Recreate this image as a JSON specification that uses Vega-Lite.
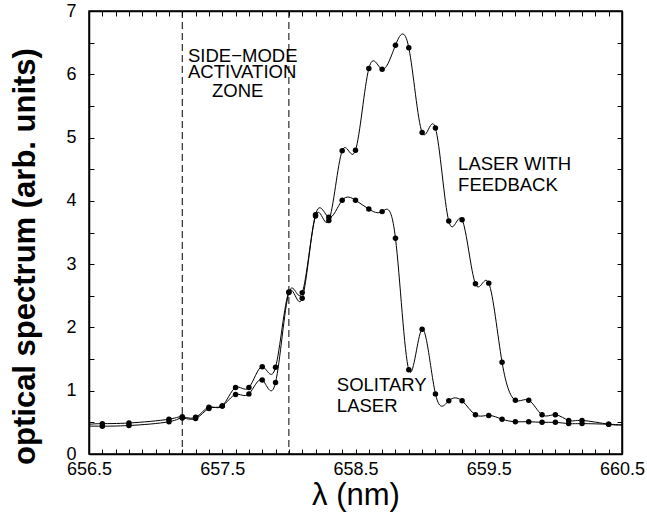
{
  "$schema": "https://vega.github.io/schema/vega-lite/v6.json",
  "width": 533,
  "height": 443,
  "autosize": {"type": "none"},
  "padding": {"left": 89, "top": 11, "right": 25, "bottom": 59},
  "background": "white",
  "config": {
    "view": {"stroke": "black", "strokeWidth": 1.5},
    "font": "Liberation Sans",
    "axis": {
      "grid": false,
      "domainColor": "black",
      "domainWidth": 1.5,
      "tickColor": "black",
      "tickWidth": 1,
      "labelColor": "black",
      "titleColor": "black",
      "labelFont": "Liberation Sans",
      "titleFont": "Liberation Sans",
      "labelFontSize": 18,
      "labelOverlap": false,
      "labelFlush": false
    }
  },
  "datasets": {
    "spectra": [
      {"nm": 656.5, "series": "feedback", "power": 0.47},
      {"nm": 656.6, "series": "feedback", "power": 0.48},
      {"nm": 656.8, "series": "feedback", "power": 0.49},
      {"nm": 657.1, "series": "feedback", "power": 0.55},
      {"nm": 657.2, "series": "feedback", "power": 0.59},
      {"nm": 657.3, "series": "feedback", "power": 0.58},
      {"nm": 657.4, "series": "feedback", "power": 0.74},
      {"nm": 657.5, "series": "feedback", "power": 0.76},
      {"nm": 657.6, "series": "feedback", "power": 1.05},
      {"nm": 657.7, "series": "feedback", "power": 1.05},
      {"nm": 657.8, "series": "feedback", "power": 1.38},
      {"nm": 657.9, "series": "feedback", "power": 1.37},
      {"nm": 658.0, "series": "feedback", "power": 2.56},
      {"nm": 658.1, "series": "feedback", "power": 2.46},
      {"nm": 658.2, "series": "feedback", "power": 3.76},
      {"nm": 658.3, "series": "feedback", "power": 3.69},
      {"nm": 658.4, "series": "feedback", "power": 4.79},
      {"nm": 658.5, "series": "feedback", "power": 4.80},
      {"nm": 658.6, "series": "feedback", "power": 6.09},
      {"nm": 658.7, "series": "feedback", "power": 6.08},
      {"nm": 658.8, "series": "feedback", "power": 6.46},
      {"nm": 658.9, "series": "feedback", "power": 6.42},
      {"nm": 659.0, "series": "feedback", "power": 5.08},
      {"nm": 659.1, "series": "feedback", "power": 5.15},
      {"nm": 659.2, "series": "feedback", "power": 3.68},
      {"nm": 659.3, "series": "feedback", "power": 3.70},
      {"nm": 659.4, "series": "feedback", "power": 2.69},
      {"nm": 659.5, "series": "feedback", "power": 2.70},
      {"nm": 659.6, "series": "feedback", "power": 1.45},
      {"nm": 659.7, "series": "feedback", "power": 0.85},
      {"nm": 659.8, "series": "feedback", "power": 0.85},
      {"nm": 659.9, "series": "feedback", "power": 0.62},
      {"nm": 660.0, "series": "feedback", "power": 0.62},
      {"nm": 660.1, "series": "feedback", "power": 0.53},
      {"nm": 660.2, "series": "feedback", "power": 0.53},
      {"nm": 660.4, "series": "feedback", "power": 0.47},
      {"nm": 660.5, "series": "feedback", "power": 0.46},
      {"nm": 656.5, "series": "solitary", "power": 0.44},
      {"nm": 656.6, "series": "solitary", "power": 0.44},
      {"nm": 656.8, "series": "solitary", "power": 0.45},
      {"nm": 657.1, "series": "solitary", "power": 0.51},
      {"nm": 657.2, "series": "solitary", "power": 0.57},
      {"nm": 657.3, "series": "solitary", "power": 0.56},
      {"nm": 657.4, "series": "solitary", "power": 0.72},
      {"nm": 657.5, "series": "solitary", "power": 0.76},
      {"nm": 657.6, "series": "solitary", "power": 0.94},
      {"nm": 657.7, "series": "solitary", "power": 0.95},
      {"nm": 657.8, "series": "solitary", "power": 1.17},
      {"nm": 657.9, "series": "solitary", "power": 1.13},
      {"nm": 658.0, "series": "solitary", "power": 2.55},
      {"nm": 658.1, "series": "solitary", "power": 2.55},
      {"nm": 658.2, "series": "solitary", "power": 3.78},
      {"nm": 658.3, "series": "solitary", "power": 3.74},
      {"nm": 658.4, "series": "solitary", "power": 4.01},
      {"nm": 658.5, "series": "solitary", "power": 4.01},
      {"nm": 658.6, "series": "solitary", "power": 3.87},
      {"nm": 658.7, "series": "solitary", "power": 3.83},
      {"nm": 658.8, "series": "solitary", "power": 3.41},
      {"nm": 658.9, "series": "solitary", "power": 1.33},
      {"nm": 659.0, "series": "solitary", "power": 1.97},
      {"nm": 659.1, "series": "solitary", "power": 0.95},
      {"nm": 659.2, "series": "solitary", "power": 0.84},
      {"nm": 659.3, "series": "solitary", "power": 0.84},
      {"nm": 659.4, "series": "solitary", "power": 0.62},
      {"nm": 659.5, "series": "solitary", "power": 0.61},
      {"nm": 659.6, "series": "solitary", "power": 0.55},
      {"nm": 659.7, "series": "solitary", "power": 0.51},
      {"nm": 659.8, "series": "solitary", "power": 0.51},
      {"nm": 659.9, "series": "solitary", "power": 0.50},
      {"nm": 660.0, "series": "solitary", "power": 0.50},
      {"nm": 660.1, "series": "solitary", "power": 0.48},
      {"nm": 660.2, "series": "solitary", "power": 0.48},
      {"nm": 660.4, "series": "solitary", "power": 0.47},
      {"nm": 660.5, "series": "solitary", "power": 0.46}
    ],
    "zone": [{"nm": 657.2}, {"nm": 658.0}],
    "notes": [
      {"nm": 657.243, "power": 6.19, "text": "SIDE−MODE"},
      {"nm": 657.243, "power": 5.94, "text": "ACTIVATION"},
      {"nm": 657.423, "power": 5.64, "text": "ZONE"},
      {"nm": 659.27, "power": 4.49, "text": "LASER WITH"},
      {"nm": 659.27, "power": 4.15, "text": "FEEDBACK"},
      {"nm": 658.36, "power": 1.0, "text": "SOLITARY"},
      {"nm": 658.36, "power": 0.66, "text": "LASER"}
    ]
  },
  "layer": [
    {
      "data": {"name": "spectra"},
      "mark": {"type": "line", "interpolate": "natural", "color": "black", "strokeWidth": 1},
      "encoding": {
        "x": {
          "field": "nm", "type": "quantitative",
          "scale": {"domain": [656.5, 660.5], "nice": false, "zero": false},
          "axis": {
            "orient": "bottom",
            "title": "λ (nm)",
            "titleFontSize": 31,
            "titleFontWeight": "normal",
            "titleX": 266.5,
            "titleY": 50,
            "titleAlign": "center",
            "titleBaseline": "alphabetic",
            "values": [656.5,656.6,656.7,656.8,656.9,657.0,657.1,657.2,657.3,657.4,657.5,657.6,657.7,657.8,657.9,658.0,658.1,658.2,658.3,658.4,658.5,658.6,658.7,658.8,658.9,659.0,659.1,659.2,659.3,659.4,659.5,659.6,659.7,659.8,659.9,660.0,660.1,660.2,660.3,660.4,660.5],
            "labelExpr": "indexof(['656.5','657.5','658.5','659.5','660.5'], format(datum.value, '.1f')) >= 0 ? format(datum.value, '.1f') : ''",
            "tickSize": -5,
            "labelPadding": 11,
            "labelBaseline": "top"
          }
        },
        "y": {
          "field": "power", "type": "quantitative",
          "scale": {"domain": [0, 7], "nice": false},
          "axis": {
            "orient": "left",
            "title": "optical spectrum (arb. units)",
            "titleFontSize": 31,
            "titleFontWeight": "bold",
            "titleAngle": 270,
            "titleX": -64,
            "titleY": 245,
            "titleAlign": "center",
            "titleBaseline": "middle",
            "values": [0,0.5,1,1.5,2,2.5,3,3.5,4,4.5,5,5.5,6,6.5,7],
            "labelExpr": "datum.value % 1 == 0 ? format(datum.value, 'd') : ''",
            "tickSize": -5,
            "labelPadding": 18
          }
        },
        "detail": {"field": "series"}
      }
    },
    {
      "data": {"name": "spectra"},
      "transform": [{"filter": "datum.nm > 656.55 && datum.nm < 660.45"}],
      "mark": {"type": "circle", "color": "black", "opacity": 1, "size": 30},
      "encoding": {
        "x": {
          "field": "nm", "type": "quantitative",
          "scale": {"domain": [656.5, 660.5], "nice": false, "zero": false},
          "axis": {
            "orient": "top",
            "title": null,
            "labels": false,
            "values": [656.5,656.6,656.7,656.8,656.9,657.0,657.1,657.2,657.3,657.4,657.5,657.6,657.7,657.8,657.9,658.0,658.1,658.2,658.3,658.4,658.5,658.6,658.7,658.8,658.9,659.0,659.1,659.2,659.3,659.4,659.5,659.6,659.7,659.8,659.9,660.0,660.1,660.2,660.3,660.4,660.5],
            "tickSize": -5
          }
        },
        "y": {
          "field": "power", "type": "quantitative",
          "scale": {"domain": [0, 7], "nice": false},
          "axis": {
            "orient": "right",
            "title": null,
            "labels": false,
            "values": [0,0.5,1,1.5,2,2.5,3,3.5,4,4.5,5,5.5,6,6.5,7],
            "tickSize": -5
          }
        }
      }
    },
    {
      "data": {"name": "zone"},
      "mark": {"type": "rule", "color": "black", "strokeWidth": 1, "strokeDash": [7, 4]},
      "encoding": {
        "x": {"field": "nm", "type": "quantitative", "scale": {"domain": [656.5, 660.5], "nice": false, "zero": false}, "axis": null}
      }
    },
    {
      "data": {"name": "notes"},
      "mark": {"type": "text", "align": "left", "baseline": "alphabetic", "font": "Liberation Sans", "fontSize": 18.5, "color": "black"},
      "encoding": {
        "x": {"field": "nm", "type": "quantitative", "scale": {"domain": [656.5, 660.5], "nice": false, "zero": false}, "axis": null},
        "y": {"field": "power", "type": "quantitative", "scale": {"domain": [0, 7], "nice": false}, "axis": null},
        "text": {"field": "text"}
      }
    }
  ],
  "resolve": {"axis": {"x": "independent", "y": "independent"}}
}
